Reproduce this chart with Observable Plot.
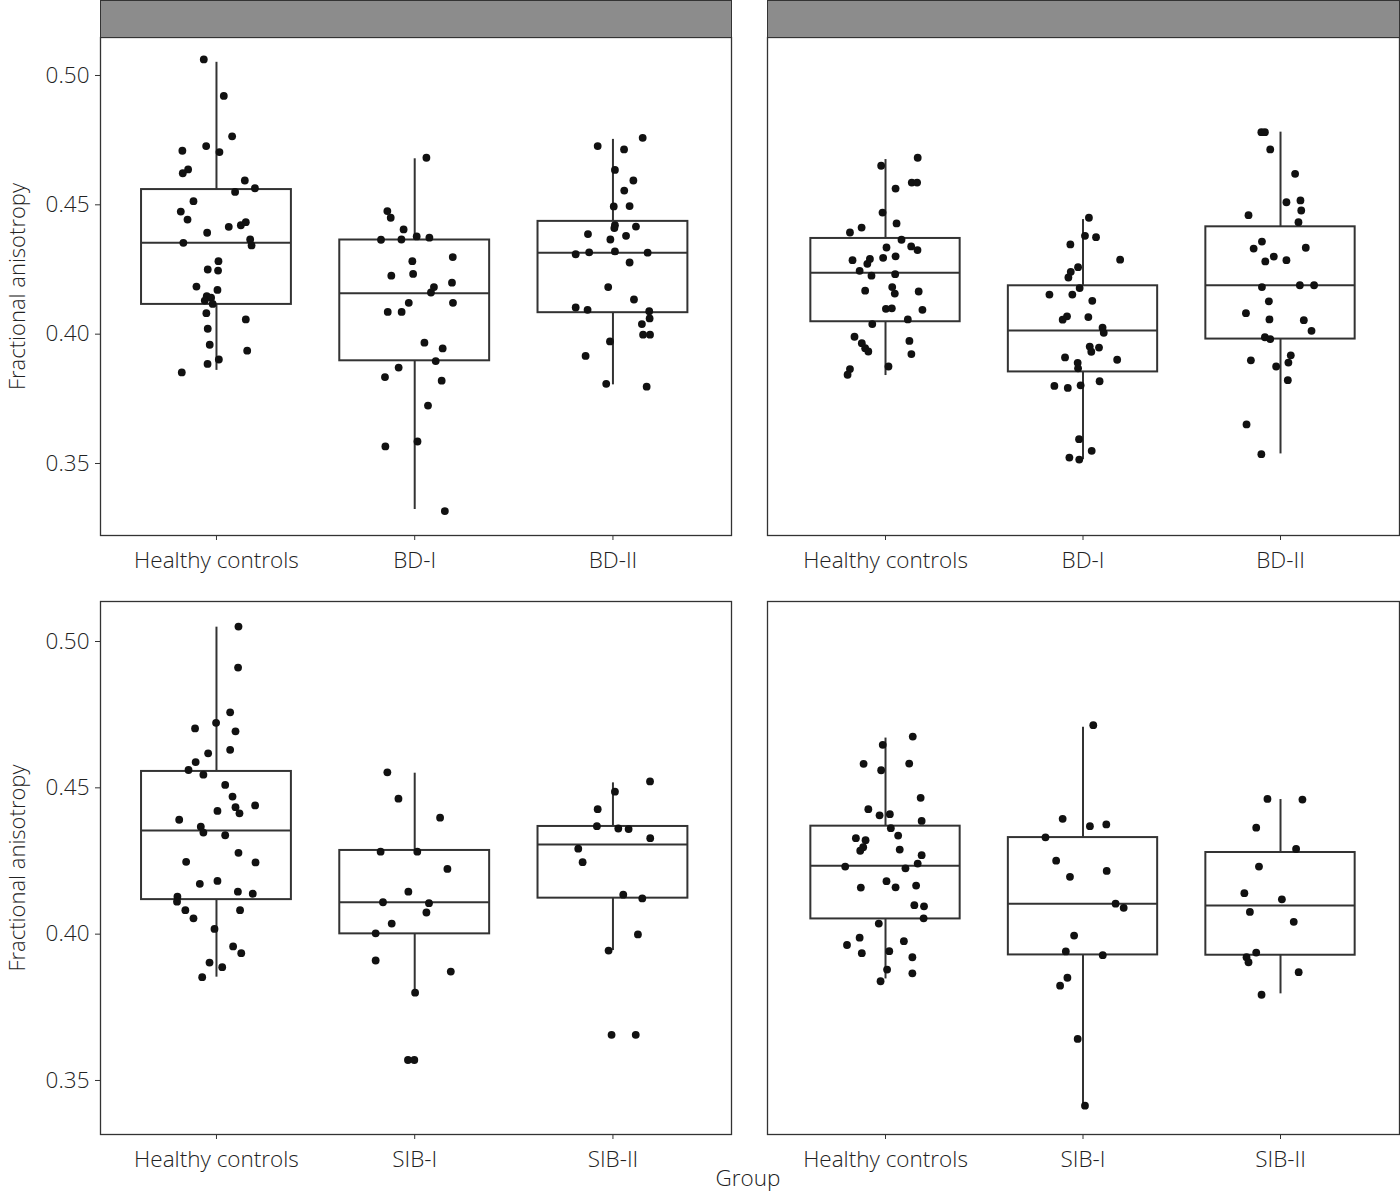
<!DOCTYPE html>
<html><head><meta charset="utf-8">
<script src="https://cdn.jsdelivr.net/npm/d3@7"></script>
<script src="https://cdn.jsdelivr.net/npm/@observablehq/plot@0.6"></script>
<style>
body{margin:0;background:#fff;}
#root{position:relative;width:1400px;height:1192px;overflow:hidden;font-family:"Open Sans",sans-serif;background:#fff;}
.panel{position:absolute;}
.strip{position:absolute;background:#8c8c8c;border:1.3px solid #333;box-sizing:border-box;}
.lab{position:absolute;color:#222;font-size:22.5px;font-weight:300;text-align:center;line-height:28px;}
</style></head><body><div id="root"></div>
<script>
const groupsTop = ["Healthy controls", "BD-I", "BD-II"];
const groupsBottom = ["Healthy controls", "SIB-I", "SIB-II"];
const yTicks = [0.35, 0.40, 0.45, 0.50];
const yTitle = "Fractional anisotropy";
const xTitle = "Group";

// points: [fractional anisotropy, horizontal jitter]
const tlHC = [[0.5062,-0.064],[0.4921,0.037],[0.4765,0.079],[0.4709,-0.172],[0.4727,-0.052],[0.4704,0.015],[0.4637,-0.143],[0.4622,-0.170],[0.4594,0.143],[0.4564,0.194],[0.4550,0.094],[0.4514,-0.116],[0.4474,-0.180],[0.4443,-0.146],[0.4415,0.062],[0.4421,0.123],[0.4433,0.148],[0.4392,-0.047],[0.4353,-0.167],[0.4366,0.170],[0.4343,0.177],[0.4282,0.010],[0.4250,-0.044],[0.4246,0.008],[0.4184,-0.101],[0.4171,0.005],[0.4147,-0.049],[0.4141,-0.027],[0.4130,-0.059],[0.4117,-0.019],[0.4081,-0.051],[0.4057,0.148],[0.4021,-0.044],[0.3959,-0.034],[0.3936,0.155],[0.3902,0.012],[0.3885,-0.045],[0.3852,-0.175]];
const tlBD1 = [[0.4682,0.059],[0.4476,-0.138],[0.4450,-0.121],[0.4405,-0.056],[0.4365,-0.170],[0.4366,-0.067],[0.4378,0.010],[0.4373,0.074],[0.4282,-0.012],[0.4298,0.192],[0.4226,-0.118],[0.4233,-0.008],[0.4182,0.097],[0.4161,0.082],[0.4199,0.188],[0.4121,-0.030],[0.4121,0.193],[0.4086,-0.136],[0.4086,-0.066],[0.3967,0.049],[0.3945,0.141],[0.3896,0.106],[0.3871,-0.081],[0.3834,-0.150],[0.3820,0.136],[0.3724,0.067],[0.3566,-0.148],[0.3585,0.014],[0.3316,0.152]];
const tlBD2 = [[0.4759,0.150],[0.4727,-0.077],[0.4714,0.056],[0.4635,0.010],[0.4594,0.103],[0.4555,0.057],[0.4494,0.004],[0.4495,0.084],[0.4421,0.010],[0.4410,0.007],[0.4416,0.116],[0.4387,-0.126],[0.4380,0.066],[0.4366,-0.013],[0.4309,-0.188],[0.4316,-0.120],[0.4320,0.010],[0.4315,0.175],[0.4277,0.084],[0.4182,-0.024],[0.4134,0.106],[0.4103,-0.188],[0.4094,-0.128],[0.4089,0.183],[0.4061,0.185],[0.4039,0.146],[0.3998,0.152],[0.3998,0.187],[0.3972,-0.015],[0.3916,-0.138],[0.3808,-0.034],[0.3797,0.170]];
const trHC = [[0.4682,0.163],[0.4651,-0.022],[0.4586,0.133],[0.4586,0.160],[0.4563,0.051],[0.4470,-0.015],[0.4428,0.056],[0.4412,-0.121],[0.4393,-0.180],[0.4365,0.081],[0.4335,0.005],[0.4339,0.130],[0.4325,0.162],[0.4286,-0.167],[0.4291,-0.079],[0.4272,-0.092],[0.4295,-0.012],[0.4301,0.051],[0.4245,-0.131],[0.4226,-0.071],[0.4232,0.049],[0.4168,-0.103],[0.4182,0.034],[0.4157,0.047],[0.4165,0.168],[0.4098,0.002],[0.4100,0.032],[0.4094,0.187],[0.4057,0.113],[0.4039,-0.067],[0.3990,-0.157],[0.3974,0.121],[0.3965,-0.120],[0.3946,-0.103],[0.3933,-0.087],[0.3923,0.131],[0.3875,0.015],[0.3865,-0.180],[0.3843,-0.192]];
const trBD1 = [[0.4450,0.030],[0.4380,0.010],[0.4375,0.066],[0.4347,-0.064],[0.4288,0.188],[0.4259,-0.025],[0.4241,-0.062],[0.4219,-0.074],[0.4178,-0.017],[0.4153,-0.170],[0.4153,-0.054],[0.4129,0.047],[0.4069,-0.081],[0.4056,-0.103],[0.4066,0.027],[0.4025,0.099],[0.4005,0.105],[0.3952,0.034],[0.3948,0.081],[0.3932,0.042],[0.3910,-0.091],[0.3901,0.173],[0.3889,-0.027],[0.3868,-0.025],[0.3800,-0.145],[0.3792,-0.077],[0.3802,-0.012],[0.3818,0.084],[0.3594,-0.020],[0.3549,0.044],[0.3523,-0.069],[0.3515,-0.019]];
const trBD2 = [[0.4781,-0.097],[0.4781,-0.079],[0.4714,-0.052],[0.4620,0.074],[0.4510,0.030],[0.4517,0.101],[0.4478,0.105],[0.4460,-0.162],[0.4433,0.091],[0.4358,-0.094],[0.4331,-0.136],[0.4334,0.128],[0.4300,-0.034],[0.4281,-0.077],[0.4286,0.030],[0.4182,-0.094],[0.4189,0.098],[0.4189,0.170],[0.4127,-0.059],[0.4081,-0.175],[0.4057,-0.056],[0.4054,0.118],[0.4013,0.157],[0.3988,-0.079],[0.3981,-0.052],[0.3918,0.052],[0.3899,-0.150],[0.3890,0.040],[0.3875,-0.022],[0.3822,0.037],[0.3651,-0.172],[0.3536,-0.097]];
const blHC = [[0.5051,0.111],[0.4911,0.109],[0.4758,0.069],[0.4722,-0.002],[0.4703,-0.108],[0.4693,0.096],[0.4618,-0.042],[0.4630,0.069],[0.4588,-0.105],[0.4561,-0.141],[0.4545,-0.066],[0.4510,0.044],[0.4470,0.081],[0.4434,0.096],[0.4413,0.116],[0.4440,0.195],[0.4421,0.005],[0.4391,-0.188],[0.4367,-0.079],[0.4347,-0.066],[0.4338,0.044],[0.4278,0.111],[0.4247,-0.153],[0.4245,0.197],[0.4172,-0.084],[0.4182,0.005],[0.4145,0.108],[0.4138,0.183],[0.4128,-0.197],[0.4111,-0.199],[0.4082,-0.157],[0.4082,0.119],[0.4054,-0.116],[0.4018,-0.010],[0.3958,0.084],[0.3935,0.125],[0.3903,-0.035],[0.3887,0.029],[0.3853,-0.072]];
const blSIB1 = [[0.4553,-0.138],[0.4463,-0.082],[0.4398,0.128],[0.4282,-0.172],[0.4282,0.013],[0.4223,0.165],[0.4145,-0.032],[0.4109,-0.160],[0.4106,0.072],[0.4074,0.059],[0.4036,-0.116],[0.4003,-0.197],[0.3910,-0.197],[0.3872,0.182],[0.3800,0.002],[0.3570,-0.034],[0.3570,-0.002]];
const blSIB2 = [[0.4522,0.187],[0.4487,0.010],[0.4427,-0.077],[0.4369,-0.081],[0.4361,0.027],[0.4359,0.079],[0.4328,0.188],[0.4292,-0.175],[0.4246,-0.153],[0.4135,0.052],[0.4122,0.148],[0.3999,0.126],[0.3944,-0.022],[0.3656,-0.007],[0.3656,0.115]];
const brHC = [[0.4675,0.138],[0.4647,-0.014],[0.4582,-0.111],[0.4583,0.120],[0.4560,-0.022],[0.4466,0.178],[0.4427,-0.087],[0.4406,-0.030],[0.4410,0.022],[0.4387,0.183],[0.4362,0.027],[0.4337,0.064],[0.4328,-0.150],[0.4321,-0.101],[0.4297,-0.113],[0.4285,-0.128],[0.4289,0.072],[0.4270,0.183],[0.4241,0.163],[0.4231,-0.204],[0.4225,0.101],[0.4181,0.005],[0.4159,-0.125],[0.4160,0.051],[0.4166,0.155],[0.4099,0.146],[0.4095,0.195],[0.4054,0.193],[0.4036,-0.034],[0.3988,-0.131],[0.3976,0.093],[0.3963,-0.195],[0.3935,-0.120],[0.3942,0.019],[0.3921,0.136],[0.3879,0.008],[0.3866,0.136],[0.3839,-0.025]];
const brSIB1 = [[0.4714,0.052],[0.4394,-0.103],[0.4369,0.035],[0.4375,0.118],[0.4331,-0.190],[0.4251,-0.136],[0.4196,-0.066],[0.4216,0.120],[0.4104,0.165],[0.4090,0.206],[0.3995,-0.045],[0.3941,-0.087],[0.3928,0.100],[0.3851,-0.079],[0.3824,-0.116],[0.3642,-0.027],[0.3414,0.010]];
const brSIB2 = [[0.4462,-0.066],[0.4460,0.111],[0.4364,-0.123],[0.4291,0.079],[0.4231,-0.109],[0.4140,-0.183],[0.4119,0.007],[0.4076,-0.155],[0.4042,0.067],[0.3937,-0.123],[0.3921,-0.172],[0.3904,-0.162],[0.3870,0.092],[0.3793,-0.096]];

// box stats per group: [lower whisker, Q1, median, Q3, upper whisker]
const boxTL = [[0.3860,0.4115,0.4353,0.4559,0.5051],[0.3322,0.3897,0.4158,0.4364,0.4678],[0.3804,0.4083,0.4315,0.4436,0.4753]];
const boxTR = [[0.3840,0.4048,0.4237,0.4370,0.4675],[0.3515,0.3854,0.4014,0.4187,0.4443],[0.3537,0.3981,0.4189,0.4415,0.4781]];
const boxBL = [[0.3853,0.4118,0.4354,0.4556,0.5049],[0.3800,0.4001,0.4109,0.4286,0.4550],[0.3944,0.4123,0.4306,0.4368,0.4517]];
const boxBR = [[0.3847,0.4052,0.4234,0.4369,0.4670],[0.3414,0.3929,0.4104,0.4330,0.4707],[0.3796,0.3928,0.4098,0.4279,0.4460]];

const yDomainTop = [0.32216, 0.51469];
const yDomainBottom = [0.33154, 0.51367];

const root = document.getElementById("root");
const INK = "#333";
const TXT = "#222";
const HW = 0.378;

function panel(cfg) {
  const pts = cfg.pts.flatMap((arr, gi) => arr.map(([fa, j]) => ({g: gi + 1, fa, j})));
  const boxes = cfg.box.map((b, gi) => ({g: gi + 1, lo: b[0], q1: b[1], med: b[2], q3: b[3], hi: b[4]}));
  const marks = [
    Plot.ruleX(boxes, {x: "g", y1: "q3", y2: "hi", stroke: INK, strokeWidth: 2}),
    Plot.ruleX(boxes, {x: "g", y1: "lo", y2: "q1", stroke: INK, strokeWidth: 2}),
    Plot.rect(boxes, {x1: d => d.g - HW, x2: d => d.g + HW, y1: "q1", y2: "q3", fill: "white", stroke: INK, strokeWidth: 2}),
    Plot.ruleY(boxes, {y: "med", x1: d => d.g - HW, x2: d => d.g + HW, stroke: INK, strokeWidth: 2}),
    Plot.dot(pts, {x: d => d.g + d.j, y: "fa", r: 3.9, fill: "#111", stroke: "none"}),
    Plot.axisX({ticks: [1, 2, 3], tickFormat: d => cfg.groups[d - 1], tickSize: 5, tickPadding: 12, label: null, stroke: INK, fill: TXT}),
    Plot.frame({stroke: INK, strokeWidth: 1.3})
  ];
  if (cfg.showY) {
    marks.push(Plot.axisY({ticks: yTicks, tickFormat: d => d.toFixed(2), tickSize: 5, tickPadding: 6, label: null, stroke: INK, fill: TXT}));
    marks.push(Plot.text([yTitle], {text: d => d, frameAnchor: "left", textAnchor: "middle", dx: -83, rotate: -90, fill: TXT, fontSize: 22}));
  }
  const chart = Plot.plot({
    width: cfg.width, height: cfg.height,
    marginLeft: cfg.mL, marginRight: cfg.mR, marginTop: cfg.mT, marginBottom: cfg.mB,
    x: {type: "linear", domain: cfg.xDomain, label: null, axis: null},
    y: {domain: cfg.yDomain, label: null, axis: null},
    style: {fontFamily: "'Open Sans', sans-serif", fontSize: "22.5px", fontWeight: 300, color: INK, background: "transparent", overflow: "visible"},
    marks
  });
  chart.classList.add("panel");
  chart.style.left = cfg.left + "px";
  chart.style.top = cfg.top + "px";
  root.appendChild(chart);
}

panel({groups: groupsTop, pts: [tlHC, tlBD1, tlBD2], box: boxTL, left: 0, top: 0, width: 749, height: 590, mL: 100, mR: 18, mT: 37, mB: 55, xDomain: [0.415, 3.598], yDomain: yDomainTop, showY: true});
panel({groups: groupsTop, pts: [trHC, trBD1, trBD2], box: boxTR, left: 749, top: 0, width: 651, height: 590, mL: 18, mR: 1, mT: 37, mB: 55, xDomain: [0.4025, 3.6025], yDomain: yDomainTop, showY: false});
panel({groups: groupsBottom, pts: [blHC, blSIB1, blSIB2], box: boxBL, left: 0, top: 590, width: 749, height: 602, mL: 100, mR: 18, mT: 11, mB: 58, xDomain: [0.415, 3.598], yDomain: yDomainBottom, showY: true});
panel({groups: groupsBottom, pts: [brHC, brSIB1, brSIB2], box: boxBR, left: 749, top: 590, width: 651, height: 602, mL: 18, mR: 1, mT: 11, mB: 58, xDomain: [0.4025, 3.6025], yDomain: yDomainBottom, showY: false});

function addStrip(left, width) {
  const s = document.createElement("div");
  s.className = "strip";
  s.style.left = left + "px"; s.style.top = "0px";
  s.style.width = width + "px"; s.style.height = "38px";
  root.appendChild(s);
}
addStrip(99.5, 632);
addStrip(766.5, 633);

const g = document.createElement("div");
g.className = "lab";
g.textContent = xTitle;
g.style.left = "648px"; g.style.width = "200px"; g.style.top = "1164px";
root.appendChild(g);
</script>
</body></html>
